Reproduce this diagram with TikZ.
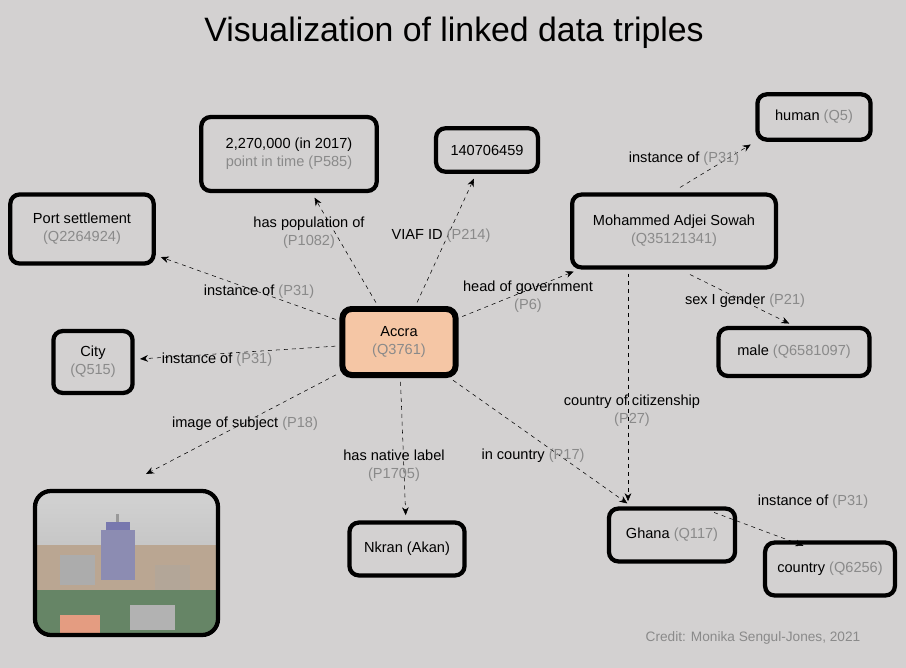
\documentclass[tikz,border=0pt]{standalone}
\usepackage{fontspec}
\setmainfont{Liberation Sans}
\usetikzlibrary{arrows.meta,positioning}
\definecolor{bggray}{HTML}{D3D1D1}
\definecolor{idgray}{HTML}{8A8A8A}
\definecolor{peach}{HTML}{F5C6A5}
\tikzset{
    % Boxes
    item/.style={draw=black,line width=3.2pt,rounded corners=7pt,fill=bggray,align=center,inner sep=0pt},
    focus/.style={item,fill=peach,line width=4.5pt},
    % Connectors
    arrow tip/.tip={Stealth[length=6pt,width=5pt]},
    link/.style={dashed,thin,-{arrow tip},shorten >=4pt,shorten <=3pt},
    lbl/.style={align=center,inner sep=1pt},
}
\newcommand{\pid}[1]{\textcolor{idgray}{#1}}
\tikzstyle{every node}=[font=\fontsize{11}{13.5}\selectfont]
\begin{document}
\begin{tikzpicture}[x=0.0265cm,y=-0.0265cm]
        \fill[bggray] (0,0) rectangle (906,668);
        \useasboundingbox (0,0) rectangle (906,668);
        \node (title) at (454,33) {\fontsize{25.5}{30}\selectfont Visualization of linked data triples};
        % Entities
        \node[focus,minimum width=3cm,minimum height=1.75cm] (accra) at (399,342) {Accra\\\pid{(Q3761)}};
        \node[item,minimum width=3.8cm,minimum height=1.83cm] (port) at (82,229) {Port settlement\\\pid{(Q2264924)}};
        \node[item,minimum width=4.65cm,minimum height=1.96cm] (pop) at (289,154) {2,270,000 (in 2017)\\\pid{point in time (P585)}};
        \node[item,minimum width=2.7cm,minimum height=1.15cm] (viaf) at (487,150) {140706459};
        \node[item,minimum width=3cm,minimum height=1.2cm] (human) at (814,117) {human \pid{(Q5)}};
        \node[item,minimum width=5.4cm,minimum height=1.93cm] (sowah) at (674,231) {Mohammed Adjei Sowah\\\pid{(Q35121341)}};
        \node[item,minimum width=2.1cm,minimum height=1.64cm] (city) at (93,362) {City\\\pid{(Q515)}};
        \node[item,minimum width=4cm,minimum height=1.27cm] (male) at (794,352) {male \pid{(Q6581097)}};
        \node[item,minimum width=3.05cm,minimum height=1.4cm] (nkran) at (407,549) {Nkran (Akan)};
        \node[item,minimum width=3.34cm,minimum height=1.4cm] (ghana) at (672,535) {Ghana \pid{(Q117)}};
        \node[item,minimum width=3.44cm,minimum height=1.4cm] (country) at (830,569) {country \pid{(Q6256)}};
        % Photo of the city
        \begin{scope}
            \clip[rounded corners=12pt] (35,491) rectangle (218,635);
            \fill[top color=gray!35,bottom color=gray!60] (35,491) rectangle (218,635);
            \fill[gray!55!brown!70] (35,545) rectangle (218,600);
            \fill[blue!20!gray!75] (101,530) rectangle (135,580);
            \fill[blue!25!gray!85] (106,522) rectangle (130,530);
            \fill[gray!80] (116,514) rectangle (119,522);
            \fill[brown!30!gray!70] (155,565) rectangle (190,590);
            \fill[gray!65] (60,555) rectangle (95,585);
            \fill[green!20!black!60] (35,590) rectangle (218,635);
            \fill[red!30!brown!60] (60,615) rectangle (100,635);
            \fill[gray!60] (130,605) rectangle (175,630);
        \end{scope}
        \draw[line width=3.2pt,rounded corners=12pt] (35,491) rectangle (218,635);
        \coordinate (photo) at (146,474);
        % Triples
        \draw[link] (accra) -- (port);
        \draw[link] (accra) -- (pop);
        \draw[link] (accra) -- (viaf);
        \draw[link] (accra) -- (sowah);
        \draw[link] (accra) -- (city);
        \draw[link,shorten >=0pt] (accra) -- (photo);
        \draw[link] (accra) -- (nkran);
        \draw[link] (accra) -- (ghana);
        \draw[link,shorten <=0pt] (sowah.north) ++(6,-5) -- (human.south west);
        \draw[link,shorten <=0pt] (sowah.south) ++(16,5) -- (male.north);
        \draw[link] (sowah.south west) ++(58,0) coordinate (citz) -- (ghana.north -| citz);
        \draw[link,shorten <=0pt,shorten >=0pt] (ghana.north east) ++(-23,6) -- ([xshift=-20pt,yshift=-4pt]country.north);
        % Predicates
        \node[lbl] (l1) at (259,292) {instance of \pid{(P31)}};
        \node[lbl] (l2) at (309,233) {has population of\\\pid{(P1082)}};
        \node[lbl] (l3) at (441,236) {VIAF ID \pid{(P214)}};
        \node[lbl] (l4) at (528,297) {head of government\\\pid{(P6)}};
        \node[lbl] (l5) at (217,360) {instance of \pid{(P31)}};
        \node[lbl] (l6) at (245,424) {image of subject \pid{(P18)}};
        \node[lbl] (l7) at (394,466) {has native label\\\pid{(P1705)}};
        \node[lbl] (l8) at (533,456) {in country \pid{(P17)}};
        \node[lbl] (l9) at (684,159) {instance of \pid{(P31)}};
        \node[lbl] (l10) at (745,301) {sex I gender \pid{(P21)}};
        \node[lbl] (l11) at (632,411) {country of citizenship\\\pid{(P27)}};
        \node[lbl] (l12) at (813,502) {instance of \pid{(P31)}};
        \node[text=idgray,font=\fontsize{10.3}{12}\selectfont] (credit) at (753,638) {Credit: Monika Sengul-Jones, 2021};
    \end{tikzpicture}
\end{document}
